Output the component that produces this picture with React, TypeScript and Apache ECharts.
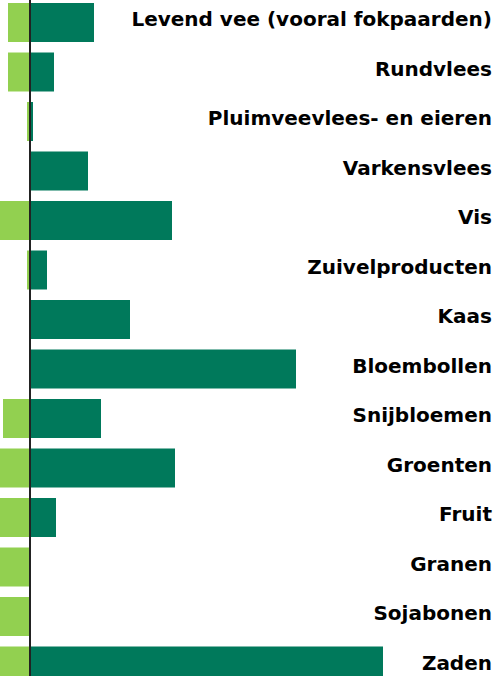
import React, { useEffect, useRef } from "react";
import * as echarts from "echarts";

const categories = [
  "Levend vee (vooral fokpaarden)",
  "Rundvlees",
  "Pluimveevlees- en eieren",
  "Varkensvlees",
  "Vis",
  "Zuivelproducten",
  "Kaas",
  "Bloembollen",
  "Snijbloemen",
  "Groenten",
  "Fruit",
  "Granen",
  "Sojabonen",
  "Zaden",
];

// negative side (light green), positive side (dark green)
const lightValues = [-22, -22, -3, 0, -45, -3, 0, 0, -27, -45, -45, -45, -45, -45];
const darkValues = [64, 24, 3, 58, 142, 17, 100, 266, 71, 145, 26, 0, 0, 353];

const axisMin = -30;
const axisMax = 466;

export default function App() {
  const ref = useRef<HTMLDivElement>(null);
  useEffect(() => {
    document.body.style.margin = "0";
    document.body.style.overflow = "hidden";
    const chart = echarts.init(ref.current!, null, { renderer: "svg" });
    chart.setOption({
      animation: false,
      grid: [
        { left: 0, right: 0, top: 7.75, height: 693, containLabel: false },
        { left: 0, right: 0, top: 4.5, height: 693, containLabel: false },
      ],
      xAxis: [
        {
          type: "value",
          gridIndex: 0,
          min: axisMin,
          max: axisMax,
          show: false,
          splitLine: { show: false },
        },
        {
          type: "value",
          gridIndex: 1,
          min: axisMin,
          max: axisMax,
          show: false,
          splitLine: { show: false },
        },
      ],
      yAxis: [
        {
          type: "category",
          gridIndex: 0,
          data: categories,
          inverse: true,
          axisLine: { show: true, onZero: true, lineStyle: { color: "#222", width: 2 } },
          axisTick: { show: false },
          axisLabel: { show: false },
          z: 10,
        },
        {
          type: "category",
          gridIndex: 1,
          data: categories,
          inverse: true,
          position: "right",
          axisLine: { show: false },
          axisTick: { show: false },
          axisLabel: {
            inside: true,
            align: "right",
            margin: 4,
            fontFamily: "DejaVu Sans",
            fontWeight: "bold",
            fontSize: 20,
            color: "#000",
          },
        },
      ],
      series: [
        {
          type: "bar",
          data: lightValues,
          xAxisIndex: 0,
          yAxisIndex: 0,
          barWidth: 39,
          barGap: "-100%",
          clip: true,
          itemStyle: { color: "#92D050" },
        },
        {
          type: "bar",
          data: darkValues,
          xAxisIndex: 0,
          yAxisIndex: 0,
          barWidth: 39,
          barGap: "-100%",
          clip: true,
          itemStyle: { color: "#00795B" },
        },
      ],
    });
    return () => chart.dispose();
  }, []);
  return <div ref={ref} style={{ width: 496, height: 720, marginTop: -10 }} />;
}
